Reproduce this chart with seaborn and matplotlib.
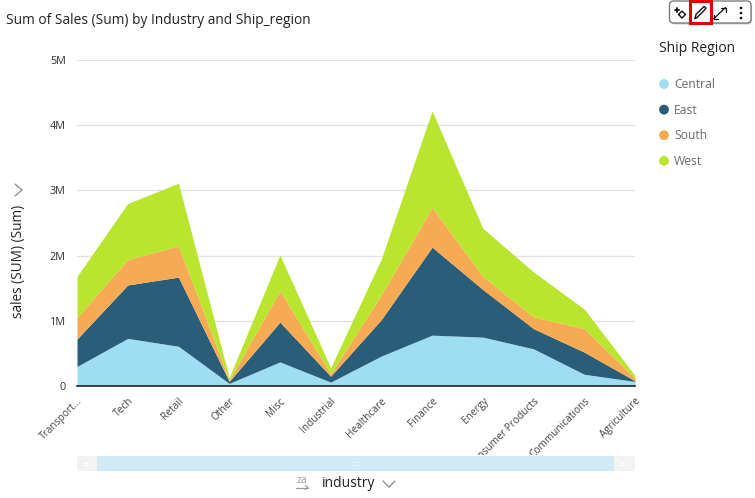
# -*- coding: utf-8 -*-
import numpy as np
import matplotlib
matplotlib.use('Agg')
import matplotlib.pyplot as plt
from matplotlib.patches import Rectangle, FancyBboxPatch, Circle
from matplotlib.transforms import Bbox
import seaborn as sns

# 数据 (单位: 百万)
industries = ['Transport...', 'Tech', 'Retail', 'Other', 'Misc', 'Industrial', 'Healthcare',
              'Finance', 'Energy', 'Consumer Products', 'Communications', 'Agriculture']
central = [0.30, 0.73, 0.61, 0.04, 0.37, 0.06, 0.46, 0.78, 0.75, 0.57, 0.18, 0.07]
east = [0.42, 0.82, 1.06, 0.03, 0.61, 0.09, 0.56, 1.35, 0.73, 0.31, 0.34, 0.01]
south = [0.33, 0.39, 0.48, 0.02, 0.48, 0.04, 0.38, 0.61, 0.20, 0.18, 0.36, 0.04]
west = [0.63, 0.86, 0.96, 0.04, 0.55, 0.09, 0.55, 1.48, 0.74, 0.69, 0.30, 0.04]
region_names = ['Central', 'East', 'South', 'West']
y_ticks = [0, 1, 2, 3, 4, 5]
y_tick_labels = ['0', '1M', '2M', '3M', '4M', '5M']

colors = ['#9fdef1', '#2a5d78', '#f6aa54', '#b9e52f']
W, H = 755, 498

sns.set_theme(style='white')
plt.rcParams['font.family'] = ['Open Sans', 'DejaVu Sans']

fig = plt.figure(figsize=(W / 100, H / 100), dpi=100)
ax = fig.add_axes([77 / W, 1 - 386 / H, (635 - 77) / W, (386 - 60) / H])

x = np.arange(len(industries))
ax.stackplot(x, central, east, south, west, colors=sns.color_palette(colors), linewidth=0, zorder=3)
ax.set_xlim(0, len(industries) - 1)
ax.set_ylim(0, 5)
ax.set_yticks(y_ticks)
ax.set_yticklabels(y_tick_labels, fontsize=7.8, color='#333333')
ax.set_xticks(x)
ax.set_xticklabels(industries, rotation=45, ha='right', rotation_mode='anchor',
                   fontsize=7.3, color='#444444')
ax.tick_params(axis='both', length=0, pad=7)
ax.tick_params(axis='y', pad=8)
ax.grid(axis='y', color='#e2e2e2', linewidth=1, zorder=0)
ax.set_axisbelow(True)
sns.despine(ax=ax, left=True, top=True, right=True)
ax.spines['bottom'].set_color('#222222')
ax.spines['bottom'].set_linewidth(1.2)
ax.spines['bottom'].set_zorder(5)

# 标签被滚动条遮住
clip = Bbox([[0, H - 455], [W, H]])
for lab in ax.get_xticklabels():
    lab.set_clip_box(clip)
    lab.set_clip_on(True)

# 覆盖层: 像素坐标
ov = fig.add_axes([0, 0, 1, 1], zorder=10)
ov.set_xlim(0, W)
ov.set_ylim(H, 0)
ov.axis('off')
ov.patch.set_alpha(0)

ov.text(6, 20.5, 'Sum of Sales (Sum) by Industry and Ship_region', fontsize=9.9,
        color='#222222', va='center', ha='left')
ov.text(19, 261, 'sales (SUM) (Sum)', fontsize=9.8, color='#222222', rotation=90,
        va='center', ha='center')
ov.plot([15, 22, 15], [184, 190, 196], color='#8a8a8a', lw=0.9)

# 图例
ov.text(659, 48, 'Ship Region', fontsize=10, color='#222222', va='center', ha='left')
for i, name in enumerate(region_names):
    yy = 84 + i * 25.6
    ov.add_patch(Circle((664, yy), 4.9, color=colors[i], lw=0))
    ov.text(674, yy + 0.6, name, fontsize=8.7, color='#6b6b6b', va='center', ha='left')

# 滚动条
ov.add_patch(Rectangle((77, 456), 558, 15, color='#f3f3f3', lw=0))
ov.add_patch(Rectangle((97, 456), 517, 15, color='#d2eaf7', lw=0))
for gx in (353, 355.5, 358):
    for gy in (462, 464.5):
        ov.add_patch(Rectangle((gx, gy), 1.2, 1.2, color='white', lw=0))
for gx in (86, 623):
    ov.plot([gx - 2, gx + 2], [463, 463], color='white', lw=0.8)
    ov.plot([gx - 2, gx + 2], [465, 465], color='white', lw=0.8)

# x轴标题
ov.text(322, 483.5, 'industry', fontsize=10, color='#222222', va='center', ha='left')
ov.text(302, 480, 'za', fontsize=7.5, color='#9a9a9a', va='center', ha='center')
ov.plot([296, 308], [487.5, 487.5], color='#9a9a9a', lw=0.9)
ov.plot([305, 308, 305], [485.5, 487.5, 489.5], color='#9a9a9a', lw=0.8)
ov.plot([383, 389, 395], [481, 487, 481], color='#8a8a8a', lw=0.9)

# 工具栏
ov.add_patch(FancyBboxPatch((671, 3), 81, 21.5, boxstyle='round,pad=0,rounding_size=4',
                            fc='#777777', ec='none', alpha=0.35, zorder=1))
ov.add_patch(FancyBboxPatch((669.5, 1), 81.5, 22, boxstyle='round,pad=0,rounding_size=4',
                            fc='white', ec='#6f6f6f', lw=0.9, zorder=2))
ov.add_patch(Rectangle((690, 1), 21, 22, fc='white', ec='#e00000', lw=2.2, zorder=3))
# 星形图标
ov.plot([678.5, 682, 685.5, 682, 678.5], [14.5, 11, 14.5, 18, 14.5], color='#111111', lw=1.0, zorder=4)
ov.plot([674.5, 678.5], [10, 10], color='#111111', lw=1.3, zorder=4)
ov.plot([676.5, 676.5], [8, 12], color='#111111', lw=1.3, zorder=4)
# 铅笔
ov.plot([695, 696, 704, 706, 704, 696.5, 695],
        [18.5, 14.5, 6.5, 8, 10.5, 18, 18.5], color='#111111', lw=1.0, zorder=4)
# 展开
ov.plot([713.5, 725.5], [19, 7.5], color='#111111', lw=0.9, zorder=4)
ov.plot([713.5, 713.5, 718], [14.5, 19, 19], color='#111111', lw=0.9, zorder=4)
ov.plot([721, 725.5, 725.5], [7.5, 7.5, 12], color='#111111', lw=0.9, zorder=4)
# 三点
for dy in (8, 13, 18):
    ov.add_patch(Circle((741, dy), 1.3, color='#111111', lw=0, zorder=4))

fig.savefig('out.png', dpi=100, facecolor='white')
